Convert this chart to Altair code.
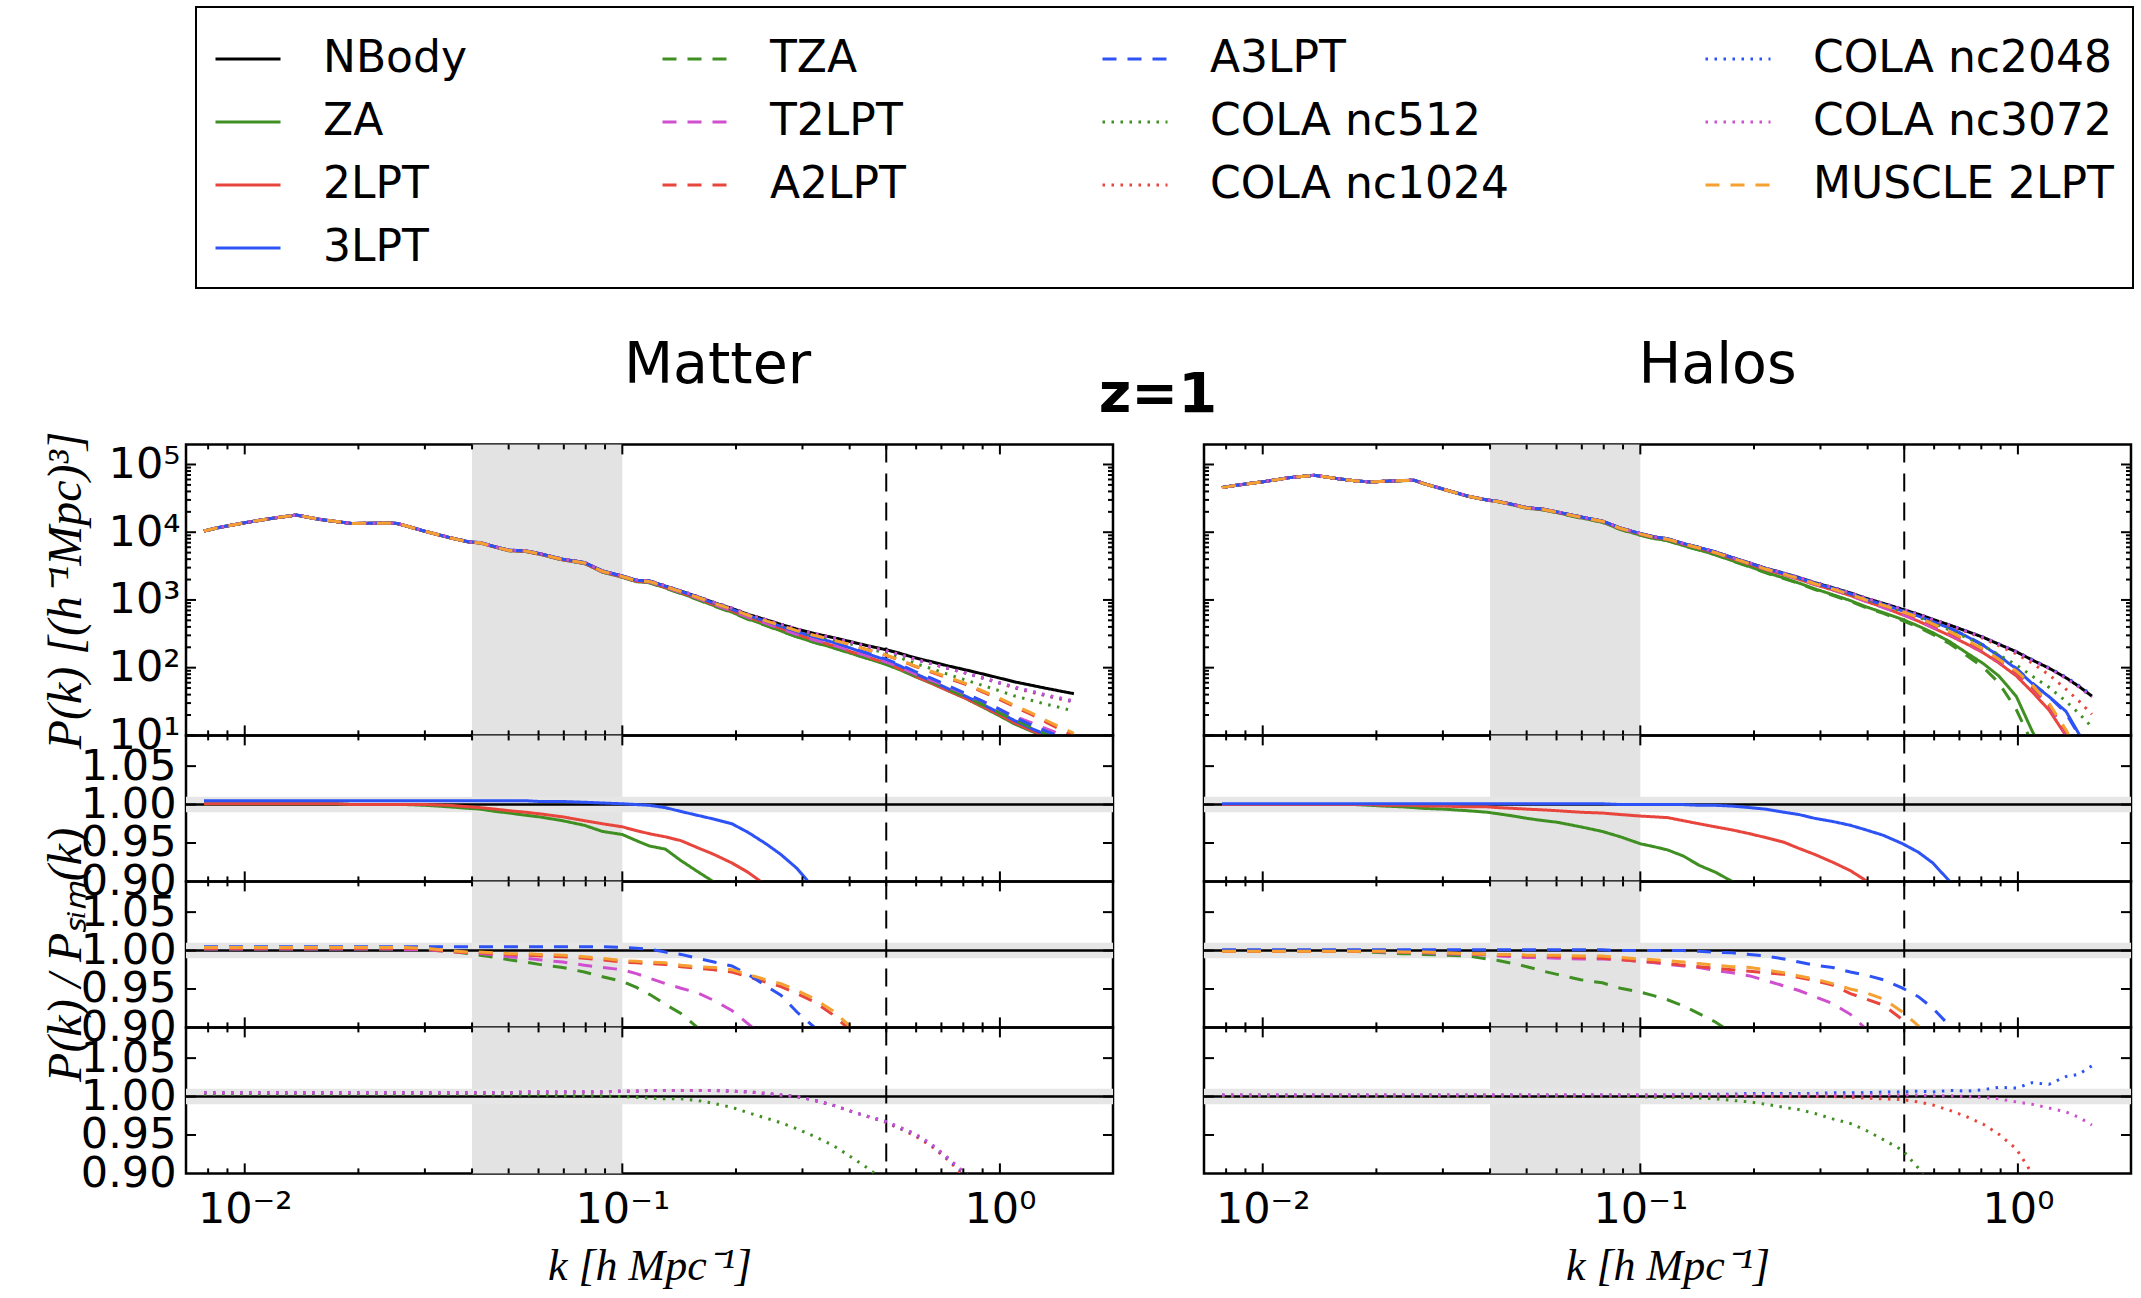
import altair as alt
import pandas as pd

# ---------------- data ----------------
k_vals = [
    0.0078, 0.0086, 0.0101, 0.0118, 0.0137, 0.0157, 0.0175, 0.0193, 0.021, 0.0235, 0.0252, 0.0267, 0.0302,
    0.0348, 0.0393, 0.042, 0.0462, 0.0501, 0.0555, 0.0602, 0.0695, 0.0793, 0.0886, 0.1, 0.109, 0.118,
    0.13, 0.143, 0.158, 0.175, 0.195, 0.215, 0.24, 0.263, 0.29, 0.323, 0.36, 0.396, 0.44,
    0.495, 0.545, 0.595, 0.66, 0.73, 0.81, 0.89, 0.99, 1.09, 1.21, 1.34, 1.45, 1.57,
]

# N-body power spectra
matter_nbody = [
    10400, 11800, 13900, 16000, 17900, 15500, 14300, 13400, 13500, 13600, 13500, 12400, 10200,
    8330, 7160, 7000, 6040, 5400, 5280, 4830, 3980, 3560, 2670, 2250, 1950, 1900,
    1600, 1350, 1120, 912, 750, 613, 510, 436, 370, 318, 280, 247, 215,
    186, 162, 140, 122, 106, 93, 82, 71, 62, 55, 49, 45, 41.3,
]
halos_nbody = [
    45600, 49800, 55900, 64000, 69200, 62000, 57500, 55200, 56500, 58000, 58500, 52300, 43000,
    34300, 29900, 28500, 25500, 23000, 21800, 19900, 16800, 14600, 11500, 9550, 8500, 8000,
    6800, 5950, 5100, 4230, 3500, 2930, 2480, 2140, 1800, 1520, 1270, 1057, 890,
    727, 615, 517, 425, 347, 280, 222, 172, 130, 98, 71, 53, 38,
]

# ratios P(k)/P_sim(k) -- matter
matter_za = [
    1.001, 1.001, 1.001, 1.001, 1.001, 1.001, 1.001, 1.000, 1.000, 1.000, 1.000, 1.000, 0.999,
    0.997, 0.995, 0.994, 0.991, 0.989, 0.986, 0.984, 0.979, 0.973, 0.965, 0.961, 0.953, 0.946,
    0.942, 0.927, 0.913, 0.899, 0.880, 0.860, 0.830, 0.800, 0.770, 0.740, 0.710, 0.680, 0.650,
    0.610, 0.570, 0.530, 0.480, 0.430, 0.380, 0.330, 0.280, 0.240, 0.210, 0.190, 0.170, 0.150,
]
matter_2lpt = [
    1.001, 1.001, 1.001, 1.001, 1.001, 1.001, 1.001, 1.000, 1.000, 1.000, 1.000, 1.000, 1.000,
    0.999, 0.997, 0.996, 0.994, 0.992, 0.990, 0.988, 0.984, 0.979, 0.975, 0.971, 0.966, 0.962,
    0.958, 0.953, 0.944, 0.935, 0.924, 0.912, 0.895, 0.870, 0.840, 0.800, 0.760, 0.720, 0.680,
    0.640, 0.590, 0.540, 0.480, 0.430, 0.380, 0.335, 0.290, 0.250, 0.215, 0.195, 0.175, 0.155,
]
matter_3lpt = [
    1.005, 1.005, 1.005, 1.005, 1.005, 1.005, 1.005, 1.005, 1.005, 1.005, 1.005, 1.005, 1.005,
    1.005, 1.005, 1.005, 1.005, 1.005, 1.005, 1.004, 1.004, 1.003, 1.002, 1.001, 1.000, 0.999,
    0.996, 0.991, 0.986, 0.981, 0.975, 0.964, 0.949, 0.935, 0.917, 0.890, 0.850, 0.810, 0.760,
    0.710, 0.650, 0.590, 0.520, 0.460, 0.410, 0.360, 0.310, 0.270, 0.230, 0.205, 0.185, 0.165,
]
matter_tza = [
    1.002, 1.002, 1.002, 1.002, 1.002, 1.002, 1.002, 1.002, 1.002, 1.002, 1.002, 1.001, 1.001,
    0.999, 0.996, 0.994, 0.991, 0.988, 0.985, 0.982, 0.978, 0.972, 0.966, 0.960, 0.952, 0.943,
    0.930, 0.918, 0.900, 0.885, 0.865, 0.845, 0.820, 0.795, 0.770, 0.740, 0.710, 0.680, 0.650,
    0.620, 0.580, 0.550, 0.500, 0.450, 0.400, 0.355, 0.310, 0.275, 0.240, 0.210, 0.190, 0.170,
]
matter_t2lpt = [
    1.002, 1.002, 1.002, 1.002, 1.002, 1.002, 1.002, 1.002, 1.002, 1.002, 1.002, 1.001, 1.001,
    0.999, 0.997, 0.996, 0.994, 0.992, 0.990, 0.988, 0.985, 0.981, 0.978, 0.975, 0.970, 0.964,
    0.957, 0.951, 0.945, 0.935, 0.922, 0.905, 0.885, 0.860, 0.830, 0.800, 0.770, 0.740, 0.700,
    0.660, 0.620, 0.580, 0.530, 0.490, 0.440, 0.400, 0.350, 0.310, 0.280, 0.250, 0.230, 0.210,
]
matter_a2lpt = [
    1.003, 1.003, 1.003, 1.003, 1.003, 1.003, 1.003, 1.003, 1.003, 1.003, 1.003, 1.003, 1.002,
    0.999, 0.997, 0.997, 0.996, 0.995, 0.994, 0.993, 0.992, 0.990, 0.988, 0.985, 0.984, 0.983,
    0.982, 0.979, 0.977, 0.975, 0.972, 0.966, 0.959, 0.953, 0.944, 0.933, 0.917, 0.899, 0.870,
    0.830, 0.790, 0.750, 0.700, 0.660, 0.610, 0.550, 0.490, 0.430, 0.370, 0.310, 0.270, 0.240,
]
matter_a3lpt = [
    1.005, 1.005, 1.005, 1.005, 1.005, 1.005, 1.005, 1.005, 1.005, 1.005, 1.005, 1.005, 1.005,
    1.005, 1.005, 1.005, 1.005, 1.005, 1.005, 1.005, 1.005, 1.005, 1.005, 1.004, 1.003, 1.002,
    0.998, 0.995, 0.990, 0.985, 0.980, 0.969, 0.954, 0.942, 0.920, 0.900, 0.860, 0.820, 0.780,
    0.730, 0.680, 0.630, 0.570, 0.510, 0.450, 0.400, 0.350, 0.300, 0.260, 0.230, 0.210, 0.190,
]
matter_c512 = [
    1.003, 1.003, 1.003, 1.003, 1.003, 1.003, 1.003, 1.003, 1.003, 1.003, 1.003, 1.003, 1.003,
    1.003, 1.003, 1.003, 1.002, 1.002, 1.002, 1.002, 1.001, 1.001, 1.001, 1.000, 0.999, 0.998,
    0.997, 0.997, 0.995, 0.991, 0.986, 0.979, 0.972, 0.966, 0.958, 0.948, 0.937, 0.924, 0.909,
    0.890, 0.860, 0.830, 0.790, 0.750, 0.710, 0.680, 0.650, 0.620, 0.600, 0.580, 0.570, 0.550,
]
matter_c1024 = [
    1.005, 1.005, 1.005, 1.005, 1.005, 1.005, 1.005, 1.005, 1.005, 1.005, 1.005, 1.005, 1.005,
    1.005, 1.005, 1.005, 1.005, 1.005, 1.006, 1.006, 1.006, 1.006, 1.006, 1.007, 1.007, 1.008,
    1.008, 1.008, 1.008, 1.008, 1.007, 1.006, 1.004, 1.002, 1.000, 0.995, 0.989, 0.982, 0.975,
    0.967, 0.958, 0.949, 0.935, 0.917, 0.895, 0.870, 0.840, 0.810, 0.790, 0.770, 0.760, 0.750,
]
matter_c2048 = [
    1.005, 1.005, 1.005, 1.005, 1.005, 1.005, 1.005, 1.005, 1.005, 1.005, 1.005, 1.005, 1.005,
    1.005, 1.005, 1.005, 1.005, 1.005, 1.006, 1.006, 1.006, 1.006, 1.006, 1.007, 1.007, 1.008,
    1.008, 1.008, 1.008, 1.008, 1.007, 1.006, 1.004, 1.002, 1.000, 0.995, 0.989, 0.982, 0.975,
    0.968, 0.959, 0.951, 0.937, 0.919, 0.898, 0.875, 0.850, 0.830, 0.810, 0.790, 0.780, 0.770,
]
matter_c3072 = [
    1.005, 1.005, 1.005, 1.005, 1.005, 1.005, 1.005, 1.005, 1.005, 1.005, 1.005, 1.005, 1.005,
    1.005, 1.005, 1.005, 1.005, 1.005, 1.006, 1.006, 1.006, 1.006, 1.006, 1.007, 1.007, 1.008,
    1.008, 1.008, 1.008, 1.008, 1.007, 1.006, 1.004, 1.002, 1.000, 0.995, 0.989, 0.982, 0.975,
    0.968, 0.960, 0.952, 0.938, 0.920, 0.900, 0.885, 0.860, 0.840, 0.820, 0.800, 0.790, 0.780,
]
matter_muscle = [
    1.004, 1.004, 1.004, 1.004, 1.004, 1.004, 1.004, 1.004, 1.004, 1.004, 1.004, 1.004, 1.003,
    1.000, 0.998, 0.998, 0.997, 0.996, 0.996, 0.995, 0.994, 0.992, 0.990, 0.987, 0.986, 0.985,
    0.984, 0.981, 0.979, 0.978, 0.975, 0.969, 0.962, 0.957, 0.948, 0.937, 0.922, 0.904, 0.875,
    0.840, 0.800, 0.760, 0.720, 0.680, 0.630, 0.570, 0.510, 0.450, 0.390, 0.330, 0.290, 0.260,
]

# ratios P(k)/P_sim(k) -- halos
halos_za = [
    1.000, 1.000, 1.000, 1.000, 1.000, 1.000, 1.000, 0.999, 0.998, 0.997, 0.996, 0.995, 0.994,
    0.992, 0.990, 0.988, 0.985, 0.982, 0.979, 0.977, 0.971, 0.965, 0.958, 0.949, 0.945, 0.941,
    0.933, 0.921, 0.912, 0.900, 0.885, 0.870, 0.850, 0.830, 0.810, 0.790, 0.770, 0.750, 0.730,
    0.710, 0.670, 0.635, 0.570, 0.480, 0.410, 0.340, 0.220, 0.090, 0.040, 0.020, 0.010, 0.010,
]
halos_2lpt = [
    1.000, 1.000, 1.000, 1.000, 1.000, 1.000, 1.000, 1.000, 0.999, 0.999, 0.999, 0.998, 0.998,
    0.997, 0.997, 0.996, 0.995, 0.994, 0.993, 0.992, 0.990, 0.989, 0.987, 0.985, 0.984, 0.983,
    0.979, 0.975, 0.971, 0.967, 0.962, 0.957, 0.951, 0.943, 0.935, 0.925, 0.914, 0.901, 0.875,
    0.830, 0.790, 0.750, 0.700, 0.650, 0.590, 0.530, 0.440, 0.340, 0.240, 0.140, 0.080, 0.050,
]
halos_3lpt = [
    1.001, 1.001, 1.001, 1.001, 1.001, 1.001, 1.001, 1.001, 1.001, 1.001, 1.001, 1.001, 1.001,
    1.001, 1.001, 1.001, 1.001, 1.001, 1.001, 1.001, 1.001, 1.001, 1.000, 1.000, 1.000, 1.000,
    1.000, 0.999, 0.999, 0.998, 0.996, 0.994, 0.990, 0.987, 0.982, 0.978, 0.973, 0.967, 0.960,
    0.949, 0.938, 0.924, 0.900, 0.840, 0.760, 0.670, 0.560, 0.450, 0.380, 0.320, 0.200, 0.120,
]
halos_tza = [
    0.999, 0.999, 0.999, 0.999, 0.999, 0.999, 0.999, 0.998, 0.997, 0.996, 0.996, 0.995, 0.994,
    0.993, 0.989, 0.987, 0.983, 0.979, 0.973, 0.969, 0.962, 0.958, 0.951, 0.946, 0.941, 0.936,
    0.928, 0.918, 0.907, 0.893, 0.875, 0.855, 0.835, 0.815, 0.790, 0.770, 0.750, 0.730, 0.710,
    0.680, 0.640, 0.600, 0.530, 0.440, 0.360, 0.270, 0.140, 0.060, 0.030, 0.020, 0.010, 0.010,
]
halos_t2lpt = [
    0.999, 0.999, 0.999, 0.999, 0.999, 0.999, 0.999, 0.999, 0.998, 0.998, 0.997, 0.997, 0.996,
    0.995, 0.994, 0.993, 0.992, 0.991, 0.991, 0.990, 0.989, 0.989, 0.988, 0.986, 0.984, 0.982,
    0.980, 0.978, 0.974, 0.971, 0.967, 0.961, 0.954, 0.948, 0.940, 0.931, 0.917, 0.898, 0.870,
    0.840, 0.800, 0.770, 0.720, 0.670, 0.610, 0.550, 0.480, 0.390, 0.270, 0.150, 0.090, 0.050,
]
halos_a2lpt = [
    0.999, 0.999, 0.999, 0.999, 0.999, 0.999, 0.999, 0.999, 0.999, 0.998, 0.998, 0.998, 0.997,
    0.996, 0.995, 0.994, 0.994, 0.993, 0.993, 0.992, 0.991, 0.990, 0.988, 0.986, 0.985, 0.983,
    0.981, 0.979, 0.977, 0.975, 0.973, 0.971, 0.969, 0.965, 0.961, 0.955, 0.944, 0.937, 0.929,
    0.910, 0.870, 0.830, 0.770, 0.710, 0.640, 0.570, 0.490, 0.400, 0.280, 0.160, 0.090, 0.050,
]
halos_a3lpt = [
    1.001, 1.001, 1.001, 1.001, 1.001, 1.001, 1.001, 1.001, 1.001, 1.001, 1.001, 1.001, 1.001,
    1.001, 1.001, 1.001, 1.001, 1.001, 1.001, 1.001, 1.001, 1.001, 1.000, 1.000, 1.000, 1.000,
    1.000, 0.999, 0.998, 0.997, 0.995, 0.993, 0.989, 0.985, 0.981, 0.978, 0.972, 0.968, 0.962,
    0.951, 0.940, 0.925, 0.902, 0.850, 0.770, 0.680, 0.570, 0.460, 0.380, 0.300, 0.190, 0.120,
]
halos_c512 = [
    1.000, 1.000, 1.000, 1.000, 1.000, 1.000, 1.000, 1.000, 1.000, 1.000, 1.000, 1.000, 1.000,
    1.000, 1.000, 1.000, 1.000, 1.000, 1.000, 1.000, 1.000, 1.000, 1.000, 1.000, 0.999, 0.999,
    0.999, 0.998, 0.997, 0.995, 0.993, 0.990, 0.986, 0.983, 0.978, 0.971, 0.965, 0.956, 0.944,
    0.930, 0.907, 0.880, 0.840, 0.800, 0.750, 0.700, 0.640, 0.580, 0.520, 0.450, 0.400, 0.350,
]
halos_c1024 = [
    1.001, 1.001, 1.001, 1.001, 1.001, 1.001, 1.001, 1.001, 1.001, 1.001, 1.001, 1.001, 1.001,
    1.001, 1.001, 1.001, 1.001, 1.001, 1.001, 1.001, 1.001, 1.001, 1.001, 1.001, 1.001, 1.001,
    1.001, 1.001, 1.001, 1.001, 1.001, 1.000, 1.000, 1.000, 1.000, 1.000, 0.999, 0.998, 0.997,
    0.996, 0.993, 0.989, 0.982, 0.974, 0.964, 0.951, 0.932, 0.900, 0.800, 0.680, 0.610, 0.540,
]
halos_c2048 = [
    1.002, 1.002, 1.002, 1.002, 1.002, 1.002, 1.002, 1.002, 1.002, 1.002, 1.002, 1.002, 1.002,
    1.002, 1.002, 1.002, 1.002, 1.002, 1.002, 1.002, 1.002, 1.002, 1.002, 1.002, 1.002, 1.002,
    1.003, 1.003, 1.003, 1.003, 1.004, 1.004, 1.004, 1.004, 1.004, 1.005, 1.005, 1.005, 1.006,
    1.006, 1.007, 1.006, 1.008, 1.007, 1.009, 1.012, 1.011, 1.018, 1.016, 1.026, 1.029, 1.040,
]
halos_c3072 = [
    1.002, 1.002, 1.002, 1.002, 1.002, 1.002, 1.002, 1.002, 1.002, 1.002, 1.002, 1.002, 1.002,
    1.002, 1.002, 1.002, 1.002, 1.002, 1.002, 1.002, 1.002, 1.002, 1.002, 1.002, 1.002, 1.002,
    1.002, 1.002, 1.002, 1.002, 1.002, 1.002, 1.002, 1.002, 1.002, 1.002, 1.002, 1.002, 1.002,
    1.002, 1.002, 1.001, 1.001, 1.000, 0.999, 0.997, 0.993, 0.990, 0.985, 0.980, 0.973, 0.963,
]
halos_muscle = [
    0.999, 0.999, 0.999, 0.999, 0.999, 0.999, 0.999, 0.999, 0.999, 0.998, 0.998, 0.998, 0.997,
    0.996, 0.995, 0.995, 0.995, 0.994, 0.994, 0.994, 0.993, 0.993, 0.991, 0.989, 0.988, 0.987,
    0.985, 0.983, 0.981, 0.979, 0.978, 0.975, 0.971, 0.967, 0.963, 0.957, 0.950, 0.945, 0.937,
    0.920, 0.902, 0.860, 0.800, 0.740, 0.670, 0.600, 0.520, 0.430, 0.300, 0.170, 0.100, 0.060,
]

# tick positions, shaded ranges
x_major_ticks = [0.01, 0.1, 1.0]
x_minor_ticks = [0.008, 0.009, 0.02, 0.03, 0.04, 0.05, 0.06, 0.07, 0.08, 0.09,
                 0.2, 0.3, 0.4, 0.5, 0.6, 0.7, 0.8, 0.9]
p_major_ticks = [10, 100, 1000, 10000, 100000]
p_minor_ticks = [20, 30, 40, 50, 60, 70, 80, 90, 200, 300, 400, 500, 600, 700, 800, 900,
                 2000, 3000, 4000, 5000, 6000, 7000, 8000, 9000,
                 20000, 30000, 40000, 50000, 60000, 70000, 80000, 90000]
r_label_ticks = [0.90, 0.95, 1.00, 1.05]
r_major_ticks = [0.95, 1.0, 1.05]
shade_k = [0.04, 0.1]
k_cut = [0.5]
ratio_band = [0.99, 1.01]

SERIES = ["NBody", "ZA", "2LPT", "3LPT", "TZA", "T2LPT", "A2LPT", "A3LPT",
          "COLA nc512", "COLA nc1024", "COLA nc2048", "COLA nc3072", "MUSCLE 2LPT"]
# row-major order of the 4-column legend (matplotlib fills it column by column)
LEGEND_ORDER = ["NBody", "TZA", "A3LPT", "COLA nc2048",
                "ZA", "T2LPT", "COLA nc512", "COLA nc3072",
                "2LPT", "A2LPT", "COLA nc1024", "MUSCLE 2LPT",
                "3LPT"]
GROUPS = {
    "solid": ["ZA", "2LPT", "3LPT"],
    "dashed": ["TZA", "T2LPT", "A2LPT", "A3LPT", "MUSCLE 2LPT"],
    "dotted": ["COLA nc512", "COLA nc1024", "COLA nc2048", "COLA nc3072"],
}

matter_ratios = {"ZA": matter_za, "2LPT": matter_2lpt, "3LPT": matter_3lpt, "TZA": matter_tza,
                 "T2LPT": matter_t2lpt, "A2LPT": matter_a2lpt, "A3LPT": matter_a3lpt,
                 "COLA nc512": matter_c512, "COLA nc1024": matter_c1024, "COLA nc2048": matter_c2048,
                 "COLA nc3072": matter_c3072, "MUSCLE 2LPT": matter_muscle}
halos_ratios = {"ZA": halos_za, "2LPT": halos_2lpt, "3LPT": halos_3lpt, "TZA": halos_tza,
                "T2LPT": halos_t2lpt, "A2LPT": halos_a2lpt, "A3LPT": halos_a3lpt,
                "COLA nc512": halos_c512, "COLA nc1024": halos_c1024, "COLA nc2048": halos_c2048,
                "COLA nc3072": halos_c3072, "MUSCLE 2LPT": halos_muscle}

for arr in [matter_nbody, halos_nbody] + list(matter_ratios.values()) + list(halos_ratios.values()):
    assert len(arr) == len(k_vals), len(arr)

# ---------------- styles ----------------
GREEN, RED, BLUE, MAGENTA, ORANGE = "#3f8f22", "#e8453c", "#2d52f5", "#cf4fcf", "#f5a030"
COLOR = {"NBody": "#000000", "ZA": GREEN, "2LPT": RED, "3LPT": BLUE, "TZA": GREEN,
         "T2LPT": MAGENTA, "A2LPT": RED, "A3LPT": BLUE, "COLA nc512": GREEN,
         "COLA nc1024": RED, "COLA nc2048": BLUE, "COLA nc3072": MAGENTA, "MUSCLE 2LPT": ORANGE}
SOLID, DASHED, DOTTED = [1, 0], [14, 11], [2.5, 6.5]
DASH = {s: SOLID for s in ["NBody"] + GROUPS["solid"]}
DASH.update({s: DASHED for s in GROUPS["dashed"]})
DASH.update({s: DOTTED for s in GROUPS["dotted"]})

W, H_TOP, H_R = 927, 291, 146
K_DOMAIN = [0.00699, 1.993]
P_DOMAIN = [10, 198000]
R_DOMAIN = [0.9, 1.09]
SHADE = "#e3e3e3"
BAND = "#e6e6e6"

xs = alt.Scale(type="log", domain=K_DOMAIN, nice=False)
ps = alt.Scale(type="log", domain=P_DOMAIN, nice=False)
rs = alt.Scale(type="linear", domain=R_DOMAIN, nice=False, zero=False)
cs = alt.Scale(domain=LEGEND_ORDER, range=[COLOR[s] for s in LEGEND_ORDER])
ds = alt.Scale(domain=LEGEND_ORDER, range=[DASH[s] for s in LEGEND_ORDER])

LEGEND = alt.Legend(
    title=None, orient="none", legendX=10, legendY=-437.4, columns=4, direction="horizontal",
    symbolType="stroke", symbolSize=4225, symbolStrokeWidth=3,
    labelFont="DejaVu Sans", labelFontSize=44, labelColor="black", labelLimit=0,
    labelOffset=41, columnPadding=189, rowPadding=7, padding=18,
    strokeColor="black", fillColor="white",
)


def build_df(nbody, ratios):
    rows = []
    for s in SERIES:
        rr = [1.0 for _ in k_vals] if s == "NBody" else ratios[s]
        for k, p, r in zip(k_vals, nbody, rr):
            rows.append({"series": s, "k": k, "P": p * r, "r": r})
    return pd.DataFrame(rows)


shade_df = pd.DataFrame({"k0": [shade_k[0]], "k1": [shade_k[1]]})
kcut_df = pd.DataFrame({"k": k_cut})
band_df = pd.DataFrame({"lo": [ratio_band[0]], "hi": [ratio_band[1]]})
one_df = pd.DataFrame({"v": [1.0]})


def panel(data, H, yfield, ys, yaxis, xaxis, ratio, ymaj, ymin, title=None):
    X = lambda f: alt.X(f, scale=xs, axis=xaxis)
    Y = lambda f: alt.Y(f, scale=ys, axis=yaxis)
    layers = [
        alt.Chart(shade_df).mark_rect(color=SHADE).encode(
            x=X("k0:Q"), x2="k1:Q", y=alt.value(0), y2=alt.value(H))
    ]
    if ratio:
        layers.append(alt.Chart(band_df).mark_rect(color=BAND).encode(
            y=Y("lo:Q"), y2="hi:Q", x=alt.value(0), x2=alt.value(W)))
        layers.append(alt.Chart(one_df).mark_rule(color="black", strokeWidth=2.5).encode(y=Y("v:Q")))
    layers.append(alt.Chart(kcut_df).mark_rule(color="black", strokeWidth=2, strokeDash=[18, 11]).encode(
        x=X("k:Q")))
    layers.append(alt.Chart(data).mark_line(clip=True, strokeWidth=3).encode(
        x=X("k:Q"),
        y=Y(f"{yfield}:Q"),
        color=alt.Color("series:N", scale=cs, legend=LEGEND),
        strokeDash=alt.StrokeDash("series:N", scale=ds, legend=LEGEND),
    ))
    # inward ticks on all four sides
    for vals, ln in ((x_major_ticks, 10), (x_minor_ticks, 5)):
        base = alt.Chart(pd.DataFrame({"t": vals})).mark_rule(color="black", strokeWidth=2)
        layers.append(base.encode(x=X("t:Q"), y=alt.value(H), y2=alt.value(H - ln)))
        layers.append(base.encode(x=X("t:Q"), y=alt.value(0), y2=alt.value(ln)))
    for vals, ln in ((ymaj, 10), (ymin, 5)):
        if not vals:
            continue
        base = alt.Chart(pd.DataFrame({"t": vals})).mark_rule(color="black", strokeWidth=2)
        layers.append(base.encode(y=Y("t:Q"), x=alt.value(0), x2=alt.value(ln)))
        layers.append(base.encode(y=Y("t:Q"), x=alt.value(W - ln), x2=alt.value(W)))
    ch = alt.layer(*layers).properties(width=W, height=H)
    if title is not None:
        ch = ch.properties(title=title)
    return ch


X_AXIS = alt.Axis(values=x_major_ticks, labelPadding=49, labelBaseline="alphabetic",
                  labelExpr="datum.value < 0.05 ? '10⁻²' : (datum.value < 0.5 ? '10⁻¹' : '10⁰')",
                  title="k [h Mpc⁻¹]", titleY=93, titleBaseline="middle")
P_AXIS = alt.Axis(values=p_major_ticks, labelPadding=6,
                  labelExpr="datum.value < 50 ? '10¹' : (datum.value < 500 ? '10²' : (datum.value < 5000 ? '10³' : (datum.value < 50000 ? '10⁴' : '10⁵')))",
                  title="P(k) [(h⁻¹Mpc)³]", titleX=-120, titleY=H_TOP / 2, titleBaseline="middle",
                  titleAngle=270, titleFontSize=48)
R_AXIS_T = alt.Axis(values=r_label_ticks, format=".2f", labelPadding=10,
                    title="P(k) / Pₛᵢₘ(k)", titleX=-120, titleY=H_R / 2, titleBaseline="middle",
                    titleAngle=270, titleFontSize=48)
R_AXIS = alt.Axis(values=r_label_ticks, format=".2f", labelPadding=10, title=None)


def column(name, nbody, ratios, left, dx, dy, extra_title=None):
    df = build_df(nbody, ratios)
    title = alt.TitleParams(name, fontSize=57, font="DejaVu Sans", fontWeight="normal",
                            anchor="middle", frame="group", dx=dx, offset=0, dy=dy, baseline="alphabetic")
    top = panel(df, H_TOP, "P", ps, P_AXIS if left else None, None, False,
                p_major_ticks, p_minor_ticks, title=title)
    subs = []
    for i, g in enumerate(["solid", "dashed", "dotted"]):
        d = df[df["series"].isin(GROUPS[g])]
        yaxis = None
        if left:
            yaxis = R_AXIS_T if i == 1 else R_AXIS
        subs.append(panel(d, H_R, "r", rs, yaxis, X_AXIS if i == 2 else None, True, r_major_ticks, [],
                          title=extra_title if i == 0 else None))
    return [top] + subs


# redshift label centred between the two columns, above the panels
z_title = alt.TitleParams("z=1", fontSize=56, font="DejaVu Sans", fontWeight="bold",
                          anchor="middle", frame="group", dx=508.5, offset=0, dy=-266,
                          baseline="alphabetic")

left_panels = column("Matter", matter_nbody, matter_ratios, True, 68, 9, z_title)
right_panels = column("Halos", halos_nbody, halos_ratios, False, 50, -3)

cells = []
for a, b in zip(left_panels, right_panels):
    cells += [a, b]

chart = alt.concat(
    *cells, columns=2, spacing={"row": 0, "column": 91}, bounds="flush"
).resolve_scale(
    x="independent", y="independent"
).configure(
    background="white",
    padding={"left": 40, "top": 5.4, "right": 2, "bottom": 0},
).configure_view(
    stroke="black", strokeWidth=2.5,
).configure_axis(
    grid=False, domain=False, ticks=False, tickSize=0,
    labelFont="DejaVu Sans", labelFontSize=43, labelColor="black",
    labelOverlap=False, labelFlush=False,
    titleFont="Liberation Serif", titleFontSize=44, titleFontStyle="italic",
    titleFontWeight="normal", titleColor="black",
).configure_legend(
    strokeWidth=2,
).configure_title(color="black")

chart.save("out.html", embed_options={"renderer": "svg", "actions": False})
